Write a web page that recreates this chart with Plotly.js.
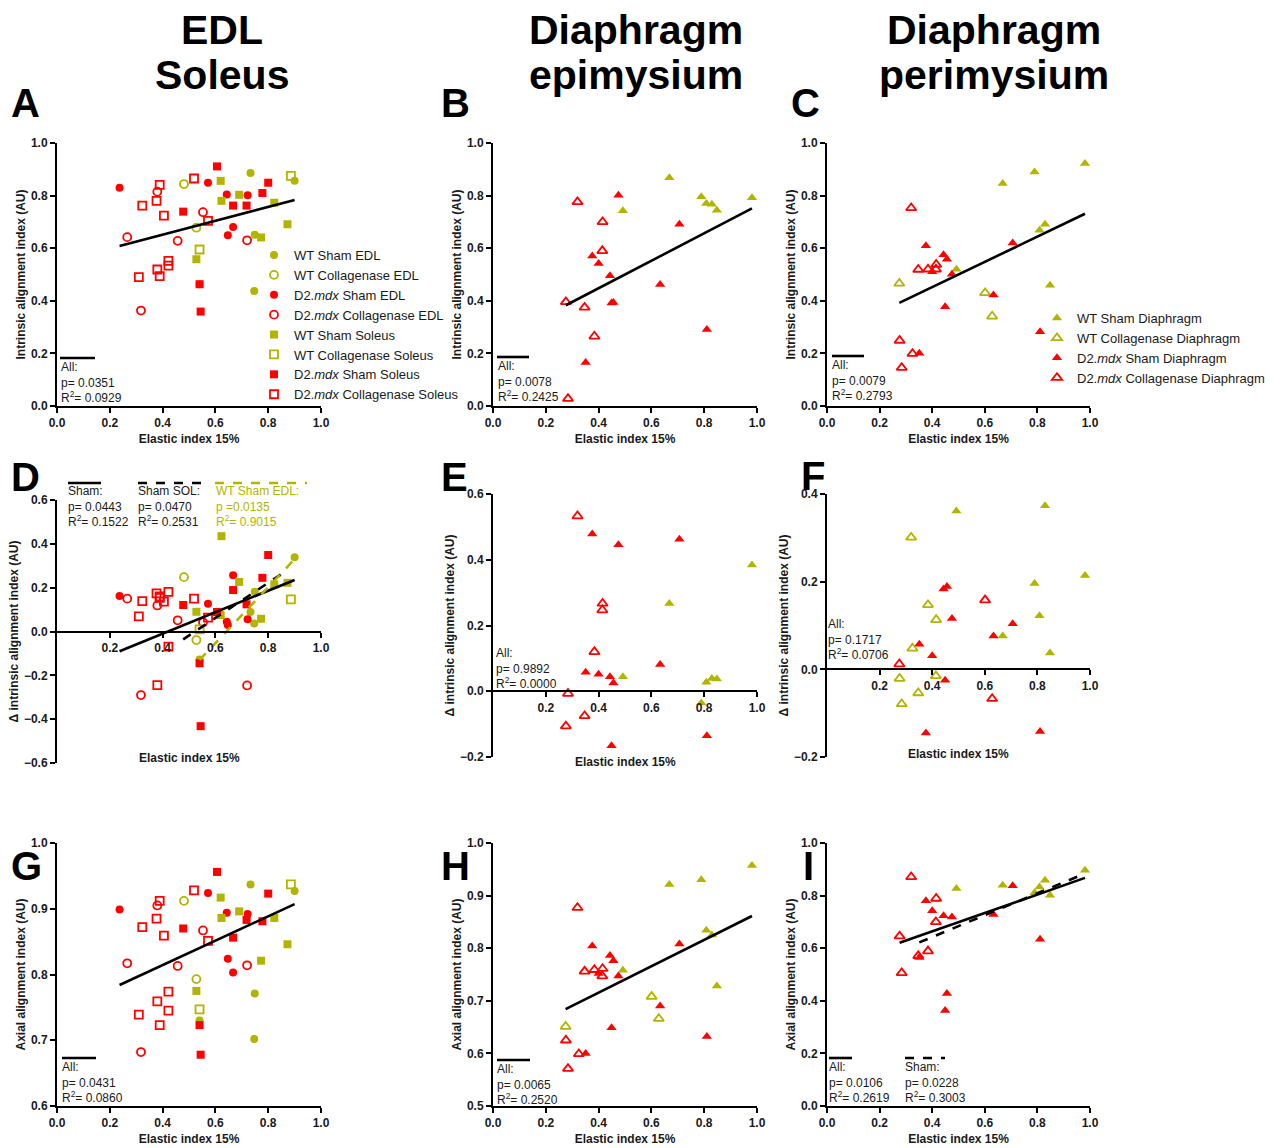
<!DOCTYPE html>
<html><head><meta charset="utf-8">
<script src="https://cdn.plot.ly/plotly-3.0.1.min.js"></script>
<style>html,body{margin:0;padding:0;background:#fff}#chart{width:1275px;height:1148px}</style>
</head><body><div id="chart"></div>
<script>
// ================= DATA =================
// ---- Panels A (intrinsic), D (delta intrinsic), G (axial): EDL / Soleus ----
const wtShamEdlX = [0.733, 0.900, 0.749, 0.747, 0.540];
const wtShamEdlA = [0.886, 0.856, 0.651, 0.437, 0.463];
const wtShamEdlD = [0.089, 0.339, 0.181, 0.037, -0.128];
const wtShamEdlG = [0.937, 0.927, 0.771, 0.702, 0.730];

const wtColEdlX = [0.481, 0.528];
const wtColEdlA = [0.844, 0.678];
const wtColEdlD = [0.248, -0.039];
const wtColEdlG = [0.912, 0.793];

const mdxShamEdlX = [0.237, 0.572, 0.643, 0.722, 0.667, 0.647];
const mdxShamEdlA = [0.830, 0.849, 0.804, 0.801, 0.681, 0.649];
const mdxShamEdlD = [0.162, 0.127, 0.045, 0.056, 0.257, 0.030];
const mdxShamEdlG = [0.899, 0.924, 0.894, 0.892, 0.803, 0.824];

const mdxColEdlX = [0.266, 0.380, 0.318, 0.457, 0.553, 0.720];
const mdxColEdlA = [0.642, 0.815, 0.363, 0.628, 0.737, 0.630];
const mdxColEdlD = [0.150, 0.119, -0.290, 0.051, 0.042, -0.246];
const mdxColEdlG = [0.817, 0.905, 0.682, 0.813, 0.867, 0.814];

const wtShamSolX = [0.620, 0.623, 0.690, 0.773, 0.823, 0.873, 0.528];
const wtShamSolA = [0.856, 0.780, 0.803, 0.641, 0.773, 0.691, 0.558];
const wtShamSolD = [0.075, 0.435, 0.226, 0.058, 0.215, 0.222, 0.090];
const wtShamSolG = [0.917, 0.886, 0.896, 0.821, 0.886, 0.846, 0.775];

const wtColSolX = [0.886, 0.540];
const wtColSolA = [0.875, 0.595];
const wtColSolD = [0.147, 0.010];
const wtColSolG = [0.937, 0.747];

const mdxShamSolX = [0.606, 0.478, 0.667, 0.718, 0.778, 0.800, 0.544, 0.540];
const mdxShamSolA = [0.911, 0.739, 0.762, 0.762, 0.810, 0.849, 0.359, 0.463];
const mdxShamSolD = [0.089, 0.121, 0.189, 0.124, 0.245, 0.349, -0.432, -0.145];
const mdxShamSolG = [0.956, 0.870, 0.856, 0.883, 0.881, 0.923, 0.678, 0.723];

const mdxColSolX = [0.323, 0.310, 0.377, 0.389, 0.405, 0.380, 0.389, 0.422, 0.422, 0.519, 0.572];
const mdxColSolA = [0.762, 0.490, 0.780, 0.841, 0.724, 0.519, 0.494, 0.552, 0.534, 0.865, 0.704];
const mdxColSolD = [0.139, 0.069, 0.174, 0.154, 0.136, -0.245, 0.160, 0.181, -0.069, 0.150, 0.063];
const mdxColSolG = [0.872, 0.739, 0.885, 0.912, 0.859, 0.759, 0.723, 0.774, 0.745, 0.928, 0.851];

// ---- Panels B/E/H (epimysium) and C/F/I (perimysium): Diaphragm ----
const wtShamDiaX = [0.668, 0.789, 0.808, 0.829, 0.848, 0.492, 0.981];
const wtShamDiaB = [0.868, 0.796, 0.770, 0.767, 0.744, 0.742, 0.792];
const wtShamDiaC = [0.846, 0.890, 0.668, 0.691, 0.459, 0.520, 0.922];
const wtShamDiaE = [0.267, -0.036, 0.027, 0.039, 0.037, 0.044, 0.384];
const wtShamDiaF = [0.076, 0.196, 0.122, 0.373, 0.037, 0.361, 0.214];
const wtShamDiaH = [0.921, 0.930, 0.834, 0.825, 0.728, 0.758, 0.957];
const wtShamDiaI = [0.839, 0.811, 0.833, 0.858, 0.801, 0.827, 0.896];

const wtColDiaX = [0.275, 0.601, 0.628];
const wtColDiaB = [null, null, null];
const wtColDiaC = [0.466, 0.430, 0.341];
const wtColDiaE = [null, null, null];
const wtColDiaF = [0.012, 0.158, -0.067];
const wtColDiaH = [0.651, 0.708, 0.666];
const wtColDiaI = [null, null, null];

const mdxShamDiaX = [0.376, 0.400, 0.443, 0.449, 0.456, 0.475, 0.633, 0.706, 0.810, 0.351];
const mdxShamDiaB = [0.570, 0.542, 0.495, 0.392, 0.394, 0.801, 0.462, 0.691, 0.291, 0.165];
const mdxShamDiaC = [0.609, 0.510, 0.575, 0.377, 0.558, 0.501, 0.422, 0.620, 0.282, 0.201];
const mdxShamDiaE = [0.478, 0.052, 0.044, -0.166, 0.025, 0.446, 0.081, 0.462, -0.135, 0.058];
const mdxShamDiaF = [-0.145, 0.031, 0.183, -0.025, 0.189, 0.116, 0.076, 0.104, -0.142, 0.057];
const mdxShamDiaH = [0.804, 0.752, 0.786, 0.649, 0.776, 0.747, 0.690, 0.808, 0.632, 0.600];
const mdxShamDiaI = [0.780, 0.742, 0.723, 0.363, 0.428, 0.719, 0.728, 0.837, 0.634, 0.565];

const mdxColDiaX = [0.320, 0.347, 0.384, 0.415, 0.414, 0.276, 0.325, 0.284];
const mdxColDiaB = [0.776, 0.375, 0.265, 0.700, 0.590, 0.396, null, 0.028];
const mdxColDiaC = [0.753, 0.519, 0.520, 0.538, 0.520, 0.249, 0.199, 0.146];
const mdxColDiaE = [0.533, -0.075, 0.120, 0.267, 0.247, -0.106, null, -0.007];
const mdxColDiaF = [0.301, -0.054, 0.147, 0.113, -0.015, -0.021, 0.048, -0.079];
const mdxColDiaH = [0.877, 0.756, 0.759, 0.761, 0.747, 0.625, 0.599, 0.571];
const mdxColDiaI = [0.871, 0.571, 0.589, 0.789, 0.700, 0.646, null, 0.506];

// ---- Regression lines: [slope, intercept] ----
const fitAall = [0.264, 0.546];
const fitBall = [0.522, 0.239];
const fitCall = [0.480, 0.260];
const fitDsham = [0.490, -0.206];
const fitDshamSol = [0.800, -0.418];
const fitDwtShamEdl = [1.278, -0.820];
const fitGall = [0.1857, 0.740];
const fitHall = [0.251, 0.615];
const fitIall = [0.350, 0.524];
const fitIsham = [0.416, 0.476];

// ---- Texts ----
const statA = ['All:', 'p= 0.0351', 'R<sup>2</sup>= 0.0929'];
const statB = ['All:', 'p= 0.0078', 'R<sup>2</sup>= 0.2425'];
const statC = ['All:', 'p= 0.0079', 'R<sup>2</sup>= 0.2793'];
const statDsham = ['Sham:', 'p= 0.0443', 'R<sup>2</sup>= 0.1522'];
const statDshamSol = ['Sham SOL:', 'p= 0.0470', 'R<sup>2</sup>= 0.2531'];
const statDwt = ['WT Sham EDL:', 'p =0.0135', 'R<sup>2</sup>= 0.9015'];
const statE = ['All:', 'p= 0.9892', 'R<sup>2</sup>= 0.0000'];
const statF = ['All:', 'p= 0.1717', 'R<sup>2</sup>= 0.0706'];
const statG = ['All:', 'p= 0.0431', 'R<sup>2</sup>= 0.0860'];
const statH = ['All:', 'p= 0.0065', 'R<sup>2</sup>= 0.2520'];
const statIall = ['All:', 'p= 0.0106', 'R<sup>2</sup>= 0.2619'];
const statIsham = ['Sham:', 'p= 0.0228', 'R<sup>2</sup>= 0.3003'];
const colHeaders = [['EDL', 'Soleus'], ['Diaphragm', 'epimysium'], ['Diaphragm', 'perimysium']];
const panelLetters = ['A', 'B', 'C', 'D', 'E', 'F', 'G', 'H', 'I'];
const xTitle = 'Elastic index 15%';
const yTitleIntr = 'Intrinsic alignment index (AU)';
const yTitleDelta = 'Δ intrinsic alignment index (AU)';
const yTitleAxial = 'Axial alignment index (AU)';

// ================= STYLE / LAYOUT =================
const W = 1275, H = 1148;
const FONT = 'Liberation Sans, Arial, Helvetica, sans-serif';
const OLIVE = '#b2b400';
const RED = '#ff0000';
const TXT = '#1a1a1a';

const muscleSeries = [
  {name: 'WT Sham EDL', sym: 'circle', color: OLIVE, x: wtShamEdlX, A: wtShamEdlA, D: wtShamEdlD, G: wtShamEdlG},
  {name: 'WT Collagenase EDL', sym: 'circle-open', color: OLIVE, x: wtColEdlX, A: wtColEdlA, D: wtColEdlD, G: wtColEdlG},
  {name: 'D2.<i>mdx</i> Sham EDL', sym: 'circle', color: RED, x: mdxShamEdlX, A: mdxShamEdlA, D: mdxShamEdlD, G: mdxShamEdlG},
  {name: 'D2.<i>mdx</i> Collagenase EDL', sym: 'circle-open', color: RED, x: mdxColEdlX, A: mdxColEdlA, D: mdxColEdlD, G: mdxColEdlG},
  {name: 'WT Sham Soleus', sym: 'square', color: OLIVE, x: wtShamSolX, A: wtShamSolA, D: wtShamSolD, G: wtShamSolG},
  {name: 'WT Collagenase Soleus', sym: 'square-open', color: OLIVE, x: wtColSolX, A: wtColSolA, D: wtColSolD, G: wtColSolG},
  {name: 'D2.<i>mdx</i> Sham Soleus', sym: 'square', color: RED, x: mdxShamSolX, A: mdxShamSolA, D: mdxShamSolD, G: mdxShamSolG},
  {name: 'D2.<i>mdx</i> Collagenase Soleus', sym: 'square-open', color: RED, x: mdxColSolX, A: mdxColSolA, D: mdxColSolD, G: mdxColSolG}
];
const diaSeries = [
  {name: 'WT Sham Diaphragm', sym: 'triangle-up', color: OLIVE, colorF: OLIVE, x: wtShamDiaX, B: wtShamDiaB, C: wtShamDiaC, E: wtShamDiaE, F: wtShamDiaF, H: wtShamDiaH, I: wtShamDiaI},
  {name: 'WT Collagenase Diaphragm', sym: 'triangle-up-open', color: OLIVE, colorF: RED, x: wtColDiaX, B: wtColDiaB, C: wtColDiaC, E: wtColDiaE, F: wtColDiaF, H: wtColDiaH, I: wtColDiaI},
  {name: 'D2.<i>mdx</i> Sham Diaphragm', sym: 'triangle-up', color: RED, colorF: RED, x: mdxShamDiaX, B: mdxShamDiaB, C: mdxShamDiaC, E: mdxShamDiaE, F: mdxShamDiaF, H: mdxShamDiaH, I: mdxShamDiaI},
  {name: 'D2.<i>mdx</i> Collagenase Diaphragm', sym: 'triangle-up-open', color: RED, colorF: OLIVE, x: mdxColDiaX, B: mdxColDiaB, C: mdxColDiaC, E: mdxColDiaE, F: mdxColDiaF, H: mdxColDiaH, I: mdxColDiaI}
];

// panel boxes in pixels: [left, right, top, bottom]
const panels = {
  A: {i: 1, box: [57, 321, 143, 406], yr: [0, 1], dt: 0.2, yt: yTitleIntr},
  B: {i: 2, box: [493, 757, 143, 406], yr: [0, 1], dt: 0.2, yt: yTitleIntr},
  C: {i: 3, box: [827, 1090, 143, 406], yr: [0, 1], dt: 0.2, yt: yTitleIntr},
  D: {i: 4, box: [57, 321, 500, 763], yr: [-0.6, 0.6], dt: 0.2, yt: yTitleDelta, cross: true, xtY: 758},
  E: {i: 5, box: [493, 757, 494, 757], yr: [-0.2, 0.6], dt: 0.2, yt: yTitleDelta, cross: true, xtY: 762},
  F: {i: 6, box: [827, 1090, 494, 757], yr: [-0.2, 0.4], dt: 0.2, yt: yTitleDelta, cross: true, xtY: 754},
  G: {i: 7, box: [57, 321, 843, 1106], yr: [0.6, 1.0], dt: 0.1, yt: yTitleAxial},
  H: {i: 8, box: [493, 757, 843, 1106], yr: [0.5, 1.0], dt: 0.1, yt: yTitleAxial},
  I: {i: 9, box: [827, 1090, 843, 1106], yr: [0, 1], dt: 0.2, yt: yTitleAxial}
};
const ref = k => { const i = panels[k].i; return {x: i === 1 ? 'x' : 'x' + i, y: i === 1 ? 'y' : 'y' + i}; };

const traces = [];
function addPoints(series, key, legendId, showLegend, useF) {
  series.forEach(s => {
    const xs = [], ys = [];
    s[key].forEach((v, j) => { if (v !== null) { xs.push(s.x[j]); ys.push(v); } });
    const col = useF ? s.colorF : s.color;
    const open = s.sym.indexOf('open') >= 0;
    traces.push({
      type: 'scatter', mode: 'markers', x: xs, y: ys, xaxis: ref(key).x, yaxis: ref(key).y,
      name: s.name, legend: legendId, showlegend: showLegend, cliponaxis: false, hoverinfo: 'x+y',
      marker: {symbol: s.sym, size: s.sym.indexOf('triangle') >= 0 ? 9 : 8, color: col,
               line: {color: col, width: open ? 1.8 : 0}}
    });
  });
}
addPoints(muscleSeries, 'A', 'legend', true, false);
addPoints(muscleSeries, 'D', 'legend', false, false);
addPoints(muscleSeries, 'G', 'legend', false, false);
addPoints(diaSeries, 'B', 'legend2', false, false);
addPoints(diaSeries, 'C', 'legend2', true, false);
addPoints(diaSeries, 'E', 'legend2', false, false);
addPoints(diaSeries, 'F', 'legend2', false, true);
addPoints(diaSeries, 'H', 'legend2', false, false);
addPoints(diaSeries, 'I', 'legend2', false, false);

function xExtent(seriesList, key) {
  let lo = Infinity, hi = -Infinity;
  seriesList.forEach(s => s[key].forEach((v, j) => { if (v !== null) { lo = Math.min(lo, s.x[j]); hi = Math.max(hi, s.x[j]); } }));
  return [lo, hi];
}
function addFit(key, fit, seriesList, color, dash) {
  const ext = xExtent(seriesList, key);
  traces.push({
    type: 'scatter', mode: 'lines', x: ext, y: ext.map(v => fit[0] * v + fit[1]),
    xaxis: ref(key).x, yaxis: ref(key).y, showlegend: false, hoverinfo: 'skip', cliponaxis: false,
    line: {color: color, width: 2.6, dash: dash}
  });
}
const sh = muscleSeries.filter(s => s.name.indexOf('Sham') >= 0);
addFit('A', fitAall, muscleSeries, '#000', 'solid');
addFit('D', fitDsham, sh, '#000', 'solid');
addFit('D', fitDshamSol, sh.filter(s => s.name.indexOf('Soleus') >= 0), '#000', 'dash');
addFit('D', fitDwtShamEdl, [muscleSeries[0]], OLIVE, 'dash');
addFit('G', fitGall, muscleSeries, '#000', 'solid');
addFit('B', fitBall, diaSeries, '#000', 'solid');
addFit('C', fitCall, diaSeries, '#000', 'solid');
addFit('H', fitHall, diaSeries, '#000', 'solid');
addFit('I', fitIall, diaSeries, '#000', 'solid');
addFit('I', fitIsham, diaSeries.filter(s => s.name.indexOf('Sham') >= 0), '#000', 'dash');

const tickFont = {family: FONT, size: 12, color: TXT, weight: 'bold'};
const titleFont = {family: FONT, size: 12, color: TXT, weight: 'bold'};
const layout = {
  width: W, height: H, margin: {l: 0, r: 0, t: 0, b: 0},
  paper_bgcolor: '#fff', plot_bgcolor: 'rgba(0,0,0,0)', showlegend: true,
  legend: {x: 254 / W, y: 1 - 240 / H, xanchor: 'left', yanchor: 'top', bgcolor: 'rgba(0,0,0,0)',
           font: {family: FONT, size: 13, color: TXT}, traceorder: 'normal', itemclick: false},
  legend2: {x: 1037 / W, y: 1 - 303 / H, xanchor: 'left', yanchor: 'top', bgcolor: 'rgba(0,0,0,0)',
            font: {family: FONT, size: 13, color: TXT}, traceorder: 'normal', itemclick: false},
  annotations: [], shapes: []
};

Object.keys(panels).forEach(k => {
  const p = panels[k];
  const [l, r, t, b] = p.box;
  const ydom = [1 - b / H, 1 - t / H];
  const xa = {
    domain: [l / W, r / W], range: [0, 1], showline: true, linecolor: '#000', linewidth: 2,
    ticks: 'outside', ticklen: 5, tickwidth: 2, tickcolor: '#000', tickfont: tickFont,
    showgrid: false, zeroline: false, tickformat: '.1f', dtick: 0.2, tick0: 0, fixedrange: true
  };
  if (p.cross) {
    xa.anchor = 'free';
    xa.position = ydom[0] + (0 - p.yr[0]) / (p.yr[1] - p.yr[0]) * (ydom[1] - ydom[0]);
    xa.tickmode = 'array';
    xa.tickvals = [0.2, 0.4, 0.6, 0.8, 1.0];
    xa.ticktext = ['0.2', '0.4', '0.6', '0.8', '1.0'];
    layout.annotations.push({xref: 'paper', yref: 'paper', x: (l + r) / 2 / W, y: 1 - p.xtY / H,
      text: xTitle, showarrow: false, font: titleFont, xanchor: 'center', yanchor: 'middle'});
  } else {
    xa.anchor = ref(k).y;
    xa.title = {text: xTitle, font: titleFont, standoff: 5};
  }
  const ya = {
    domain: ydom, range: p.yr, anchor: ref(k).x, showline: true, linecolor: '#000', linewidth: 2,
    ticks: 'outside', ticklen: 5, tickwidth: 2, tickcolor: '#000', tickfont: tickFont,
    showgrid: false, zeroline: false, tickformat: '.1f', dtick: p.dt, tick0: 0, fixedrange: true,
    title: {text: p.yt, font: titleFont, standoff: 3}
  };
  layout[p.i === 1 ? 'xaxis' : 'xaxis' + p.i] = xa;
  layout[p.i === 1 ? 'yaxis' : 'yaxis' + p.i] = ya;
});

// column headers
const headerX = [222, 636, 994];
colHeaders.forEach((lines, c) => {
  lines.forEach((txt, j) => {
    layout.annotations.push({xref: 'paper', yref: 'paper', x: headerX[c] / W, y: 1 - (30 + 45 * j) / H,
      text: txt, showarrow: false, xanchor: 'center', yanchor: 'middle',
      font: {family: FONT, size: 41, color: '#000', weight: 'bold'}});
  });
});
// panel letters
const letterPos = [[9, 103], [439, 103], [789, 103], [9, 477], [439, 477], [799, 476], [9, 866], [439, 866], [801, 866]];
panelLetters.forEach((L, j) => {
  layout.annotations.push({xref: 'paper', yref: 'paper', x: letterPos[j][0] / W, y: 1 - letterPos[j][1] / H,
    text: L, showarrow: false, xanchor: 'left', yanchor: 'middle',
    font: {family: FONT, size: 40, color: '#000', weight: 'bold'}});
});
// stats blocks
function stat(lines, xPx, yTopPx, color) {
  layout.annotations.push({xref: 'paper', yref: 'paper', x: xPx / W, y: 1 - yTopPx / H,
    text: lines.join('<br>'), showarrow: false, xanchor: 'left', yanchor: 'top', align: 'left',
    font: {family: FONT, size: 12, color: color || TXT}, borderpad: 0});
}
function sample(x0, x1, yPx, color, dash) {
  layout.shapes.push({type: 'line', xref: 'paper', yref: 'paper', x0: x0 / W, x1: x1 / W,
    y0: 1 - yPx / H, y1: 1 - yPx / H, line: {color: color, width: 2.6, dash: dash}});
}
sample(60, 95, 358, '#000', 'solid'); stat(statA, 60, 359);
sample(497, 529, 357, '#000', 'solid'); stat(statB, 497, 358);
sample(832, 864, 356, '#000', 'solid'); stat(statC, 831, 357);
sample(68, 101, 483, '#000', 'solid'); stat(statDsham, 67, 483);
sample(138, 202, 483, '#000', 'dash'); stat(statDshamSol, 137, 483);
sample(215, 307, 483, OLIVE, 'dash'); stat(statDwt, 215, 483, OLIVE);
stat(statE, 495, 645);
stat(statF, 827, 616);
sample(62, 96, 1058, '#000', 'solid'); stat(statG, 61, 1059);
sample(497, 530, 1060, '#000', 'solid'); stat(statH, 496, 1061);
sample(829, 852, 1058, '#000', 'solid'); stat(statIall, 828, 1059);
sample(905, 945, 1058, '#000', 'dash'); stat(statIsham, 904, 1059);

Plotly.newPlot('chart', traces, layout, {staticPlot: true, displayModeBar: false});
</script></body></html>
